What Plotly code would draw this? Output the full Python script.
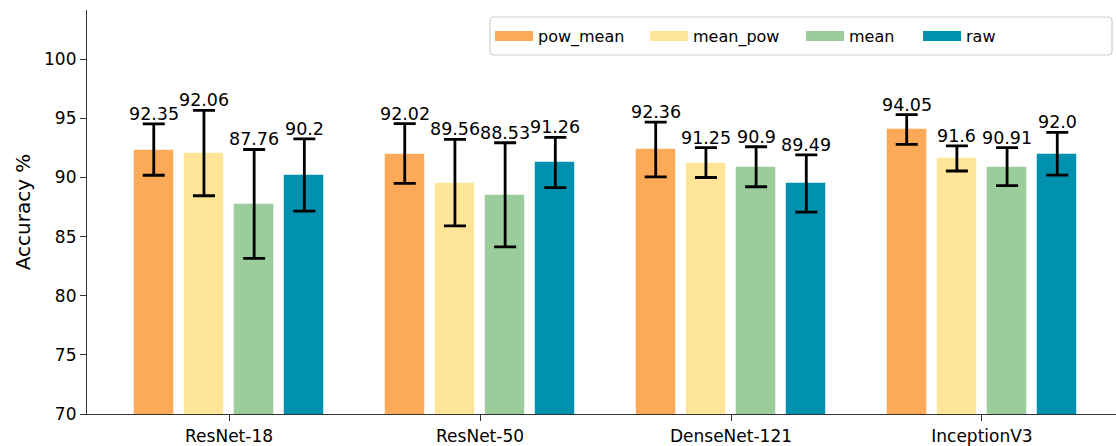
import numpy as np
import plotly.graph_objects as go

categories = ["ResNet-18", "ResNet-50", "DenseNet-121", "InceptionV3"]
series_names = ["pow_mean", "mean_pow", "mean", "raw"]
pow_mean = [92.35, 92.02, 92.36, 94.05]
mean_pow = [92.06, 89.56, 91.25, 91.6]
mean = [87.76, 88.53, 90.9, 90.91]
raw = [90.2, 91.26, 89.49, 92.0]
pow_mean_err = [2.17, 2.53, 2.31, 1.26]
mean_pow_err = [3.61, 3.66, 1.26, 1.06]
mean_err = [4.6, 4.4, 1.69, 1.61]
raw_err = [3.05, 2.12, 2.42, 1.8]
y_ticks = [70, 75, 80, 85, 90, 95, 100]

values = [pow_mean, mean_pow, mean, raw]
errors = [pow_mean_err, mean_pow_err, mean_err, raw_err]
colors = ["#fdaa58", "#fee597", "#9acc9c", "#0091ae"]

# figure geometry (pixels)
W, H = 1116, 446
ML, MR, MT, MB = 87, 0, 10, 32
PW, PH = W - ML - MR, H - MT - MB

def px_x(p):
    return (p - ML) / PW

def px_y(p):
    return (H - MB - p) / PH

fig = go.Figure()
base = np.arange(len(categories))
annotations = []
for k, (name, vals, errs, col) in enumerate(zip(series_names, values, errors, colors)):
    xs = base + (k - 1.5) * 0.2
    fig.add_trace(go.Bar(
        x=xs, y=vals, width=0.16, name=name, showlegend=False,
        marker=dict(color=col, line=dict(color="rgba(255,255,255,0.5)", width=1)),
        error_y=dict(type="data", array=errs, visible=True, color="black",
                     thickness=2.8, width=11),
    ))
    for x, v, e in zip(xs, vals, errs):
        annotations.append(dict(
            x=x, y=v + e, text=str(v), showarrow=False, yanchor="bottom",
            xanchor="center", yshift=-2,
            font=dict(family="DejaVu Sans", size=17.5, color="black"),
        ))

# legend: one legend per entry so the spacing follows the reference
legend_left = [490, 645, 801, 918]
legend_keys = ["legend", "legend2", "legend3", "legend4"]
legend_layout = {}
for name, col, key, lx in zip(series_names, colors, legend_keys, legend_left):
    fig.add_trace(go.Scatter(
        x=[None], y=[None], mode="lines", name=name,
        line=dict(color=col, width=10), legend=key, showlegend=True,
    ))
    legend_layout[key] = dict(
        x=px_x(lx), xanchor="left", y=px_y(36), yanchor="middle",
        orientation="h", bgcolor="rgba(0,0,0,0)", borderwidth=0,
        font=dict(size=16, family="DejaVu Sans", color="black"),
        itemwidth=38,
    )

# rounded legend frame
x0, x1, y0, y1 = px_x(490), px_x(1112), px_y(55), px_y(17)
rx, ry = 4 / PW, 4 / PH
frame_path = (
    f"M{x0 + rx},{y0} L{x1 - rx},{y0} Q{x1},{y0} {x1},{y0 + ry} "
    f"L{x1},{y1 - ry} Q{x1},{y1} {x1 - rx},{y1} "
    f"L{x0 + rx},{y1} Q{x0},{y1} {x0},{y1 - ry} "
    f"L{x0},{y0 + ry} Q{x0},{y0} {x0 + rx},{y0} Z"
)

fig.update_layout(
    width=W, height=H,
    margin=dict(l=ML, r=MR, t=MT, b=MB),
    plot_bgcolor="white", paper_bgcolor="white",
    font=dict(family="DejaVu Sans", size=17, color="black"),
    showlegend=True,
    annotations=annotations,
    bargap=0,
    shapes=[dict(
        type="path", xref="paper", yref="paper", path=frame_path,
        line=dict(color="#d0d0d0", width=1.2), fillcolor="rgba(255,255,255,0.8)",
        layer="below",
    )],
    **legend_layout,
)
fig.update_xaxes(
    range=[-0.566, 3.534], tickvals=list(base), ticktext=categories,
    showline=True, linecolor="#333333", linewidth=1.2,
    ticks="outside", ticklen=6, tickcolor="#333333",
    showgrid=False, zeroline=False, tickfont=dict(size=17),
)
fig.update_yaxes(
    range=[70, 104.15], tickvals=y_ticks,
    showline=True, linecolor="#333333", linewidth=1.2,
    ticks="outside", ticklen=6, tickcolor="#333333",
    showgrid=False, zeroline=False, tickfont=dict(size=17),
    title=dict(text="Accuracy %", font=dict(size=20), standoff=8),
)

fig.write_html(
    "out.html",
    config={"displayModeBar": False},
    post_script="document.body.style.margin='0';document.body.style.padding='0';",
)
